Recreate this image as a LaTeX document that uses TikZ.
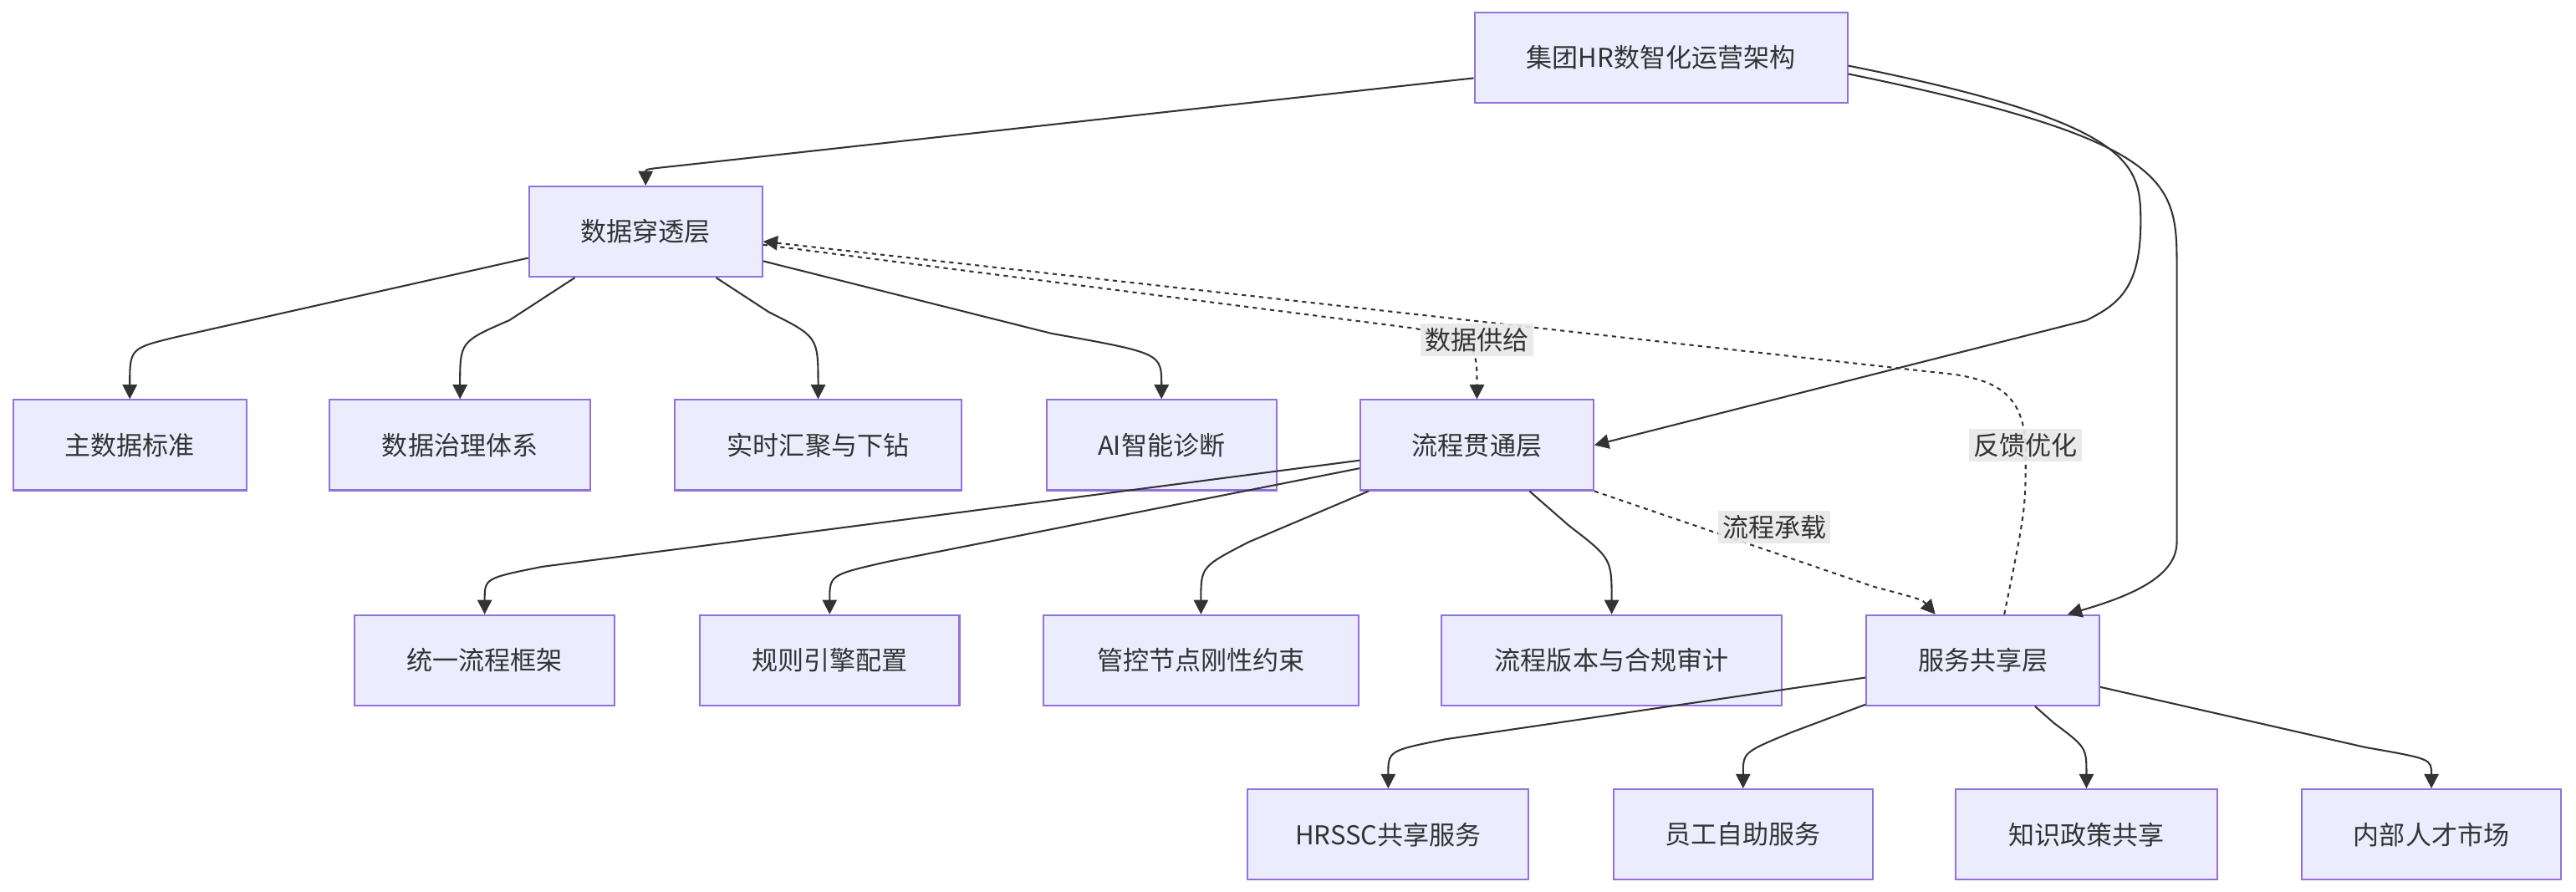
\documentclass[tikz,border=0pt]{standalone}
\usepackage{fontspec}
\setmainfont{Noto Sans CJK SC}
\usetikzlibrary{arrows.meta, positioning}
\definecolor{boxfill}{HTML}{ECECFF}
\definecolor{boxline}{HTML}{9370DB}
\definecolor{ink}{HTML}{333333}
\begin{document}
\begin{tikzpicture}[x=0.02cm, y=-0.02cm,
    box/.style={draw=boxline, fill=boxfill, line width=0.6pt, minimum height=1.1cm, inner xsep=0.45cm, text=ink, font=\fontsize{9}{11}\selectfont},
    edge/.style={draw=ink, line width=0.6pt, -{Triangle[length=5pt, width=5pt]}},
    dashededge/.style={edge, dash pattern=on 1.5pt off 1.5pt},
    tag/.style={fill=black!9, fill opacity=0.9, text opacity=1, text=ink, inner sep=1.5pt, font=\fontsize{9}{11}\selectfont}]
  \useasboundingbox (0,0) rectangle (1568,543);
  % layers
  \node [box, minimum width=4.54cm] (top) at (1011,35) {集团HR数智化运营架构};
  \node [box, minimum width=2.84cm] (data) at (393,141) {数据穿透层};
  \node [box, minimum width=2.84cm] (flow) at (899,271) {流程贯通层};
  \node [box, minimum width=2.84cm] (svc) at (1207,402) {服务共享层};
  % data children
  \node [box, minimum width=2.84cm] (main) at (79,271) {主数据标准};
  \node [box, minimum width=3.18cm] (gov) at (280,271) {数据治理体系};
  \node [box, minimum width=3.5cm] (real) at (498,271) {实时汇聚与下钻};
  \node [box, minimum width=2.8cm] (ai) at (707,271) {AI智能诊断};
  % flow children
  \node [box, minimum width=3.16cm] (unify) at (295,402) {统一流程框架};
  \node [box, minimum width=3.16cm] (rule) at (505,402) {规则引擎配置};
  \node [box, minimum width=3.84cm] (ctrl) at (731,402) {管控节点刚性约束};
  \node [box, minimum width=4.14cm] (ver) at (981,402) {流程版本与合规审计};
  % service children
  \node [box, minimum width=3.42cm] (hrssc) at (845,508) {HRSSC共享服务};
  \node [box, minimum width=3.16cm] (self) at (1061,508) {员工自助服务};
  \node [box, minimum width=3.18cm] (know) at (1270,508) {知识政策共享};
  \node [box, minimum width=3.16cm] (market) at (1480,508) {内部人才市场};

  % top edges
  \draw [edge] (top) -- (412,101) .. controls (393,103) .. (data.north);
  \draw [edge] ([yshift=-0.1cm]top.east) .. controls (1300,75) and (1303,100) .. (1303,135)
        .. controls (1303,175) and (1290,185) .. (1270,195) -- (flow.east);
  \draw [edge] ([yshift=-0.2cm]top.east) .. controls (1320,85) and (1325,110) .. (1325,160)
        -- (1325,330) .. controls (1325,350) and (1300,362) .. ([xshift=-0.4cm]svc.north east);
  % data edges
  \draw [edge] (data) -- (108,205) .. controls (79,212) .. (main.north);
  \draw [edge] (data) -- (310,195) .. controls (280,208) .. (gov.north);
  \draw [edge] (data) -- (468,190) .. controls (498,205) .. (real.north);
  \draw [edge] (data) -- (640,203) .. controls (707,215) .. (ai.north);
  % flow edges
  \draw [edge] (flow) -- (330,345) .. controls (295,352) .. (unify.north);
  \draw [edge] (flow) -- (540,342) .. controls (505,350) .. (rule.north);
  \draw [edge] (flow) -- (760,330) .. controls (731,345) .. (ctrl.north);
  \draw [edge] (flow) -- (955,320) .. controls (981,340) .. (ver.north);
  % service edges
  \draw [edge] (svc) -- (880,450) .. controls (845,457) .. (hrssc.north);
  \draw [edge] (svc) -- (1090,446) .. controls (1061,458) .. (self.north);
  \draw [edge] (svc) -- (1250,440) .. controls (1270,455) .. (know.north);
  \draw [edge] (svc) -- (1440,455) .. controls (1480,462) .. (market.north);
  % dotted links
  \draw [dashededge] ([yshift=-0.16cm]data.east) -- (862,200) .. controls (899,210) .. (flow.north);
  \draw [dashededge] (flow.south east) -- (1140,357) .. controls (1170,365) .. ([xshift=-0.58cm]svc.north);
  \draw [dashededge] ([xshift=0.26cm]svc.north) .. controls (1233,310) .. (1233,275)
        .. controls (1233,240) and (1215,232) .. (1190,228) -- ([yshift=-0.12cm]data.east);
  % link labels
  \node [tag] (supply) at (899,207) {数据供给};
  \node [tag] (carry) at (1080,321) {流程承载};
  \node [tag] (feedback) at (1233,271) {反馈优化};
\end{tikzpicture}
\end{document}
